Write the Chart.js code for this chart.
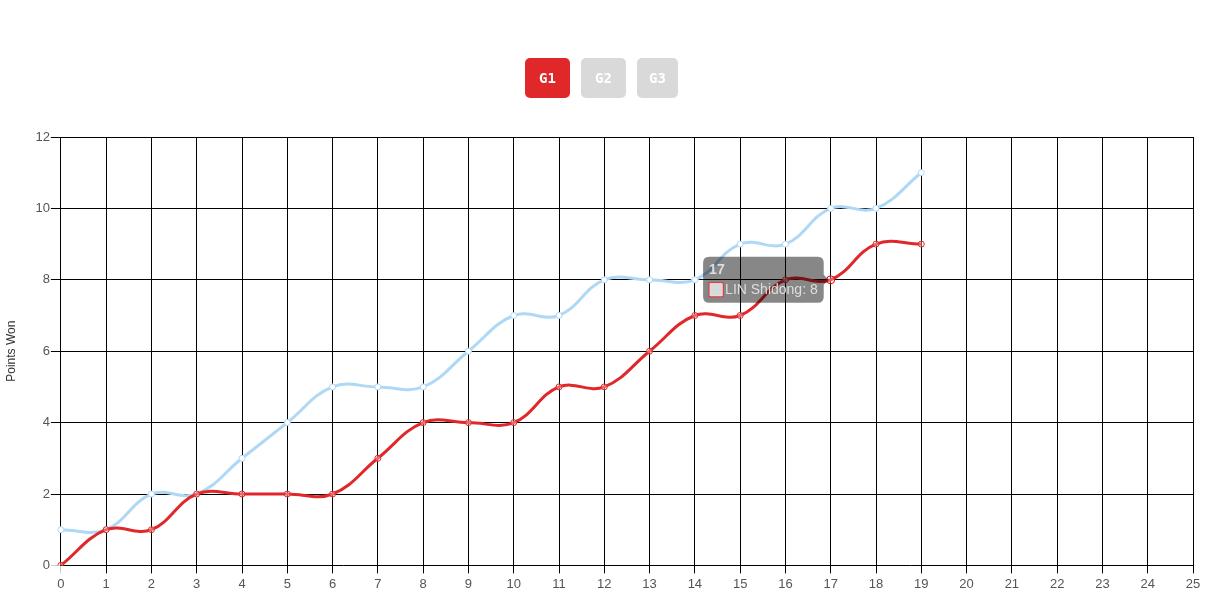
<!DOCTYPE html>
<html>
<head>
<meta charset="utf-8">
<script src="https://cdn.jsdelivr.net/npm/chart.js@4"></script>
<style>
  html,body{margin:0;padding:0;background:#fff;}
  #wrap{position:relative;width:1217px;height:605px;}
  #btns{position:absolute;top:58px;left:525px;height:40px;font-size:0;white-space:nowrap;}
  .b{display:inline-block;width:45px;height:40px;border-radius:5px;margin-right:11px;
     color:#fff;font-family:"DejaVu Sans Mono","Liberation Mono",monospace;font-weight:bold;font-size:14px;line-height:40px;text-align:center;background:#d9d9d9;vertical-align:top;}
  .b.on{background:#e0282a;}
  #c{position:absolute;top:0;left:0;}
</style>
</head>
<body>
<div id="wrap">
  <canvas id="c" width="1217" height="605"></canvas>
  <div id="btns"><span class="b on">G1</span><span class="b">G2</span><span class="b" style="width:41px">G3</span></div>
</div>
<script>
const rallyLabels = ["0","1","2","3","4","5","6","7","8","9","10","11","12","13","14","15","16","17","18","19","20","21","22","23","24","25"];
const linShidong = [0,1,1,2,2,2,2,3,4,4,4,5,5,6,7,7,8,8,9,9];
const opponent   = [1,1,2,2,3,4,5,5,5,6,7,7,8,8,8,9,9,10,10,11];
const yTicks = [0,2,4,6,8,10,12];

Chart.defaults.font.family = '"Liberation Sans", Arial, sans-serif';
Chart.defaults.font.size = 13;
Chart.defaults.color = '#555';

const RED = '#e0282a';
const BLUE = '#aed8f5';
const gridColor = ctx => ctx.index === 0 ? 'rgba(0,0,0,0.2)' : '#000';

const chart = new Chart(document.getElementById('c'), {
  type: 'line',
  data: {
    labels: rallyLabels,
    datasets: [
      {label:'LIN Shidong', data: linShidong, borderColor: RED, backgroundColor: '#d9d9d9',
       borderWidth: 3, tension: 0.4, pointRadius: 3, pointBorderWidth: 1,
       pointBackgroundColor: 'rgba(255,255,255,0.3)', pointBorderColor: RED, fill:false},
      {label:'Opponent', data: opponent, borderColor: BLUE, backgroundColor: '#d9d9d9',
       borderWidth: 3, tension: 0.4, pointRadius: 3, pointBorderWidth: 1,
       pointBackgroundColor: '#fff', pointBorderColor: BLUE, fill:false}
    ]
  },
  options: {
    responsive: false,
    animation: false,
    layout: {padding: {top: 137, right: 24, bottom: 10, left: 0}},
    plugins: {
      legend: {display: false},
      tooltip: {
        backgroundColor: 'rgba(0,0,0,0.47)',
        titleColor: '#ddd', bodyColor: '#ddd',
        titleFont: {weight: 'bold', size: 14, lineHeight: 1},
        bodyFont: {size: 14, lineHeight: 1},
        cornerRadius: 6, padding: 6, caretSize: 5,
        callbacks: {
          labelColor: () => ({borderColor: RED, backgroundColor: '#d9d9d9', borderWidth: 1})
        }
      }
    },
    scales: {
      x: {
        offset: false,
        grid: {color: gridColor, tickLength: 8, offset: false},
        border: {color: '#000'},
        ticks: {maxRotation: 0, autoSkip: false, padding: 3}
      },
      y: {
        min: 0, max: 12,
        afterBuildTicks: axis => { axis.ticks = yTicks.map(v => ({value: v})); },
        grid: {color: gridColor, tickLength: 10},
        border: {color: '#000'},
        ticks: {padding: 1},
        title: {display: true, text: 'Points Won', color: '#333', font: {size: 12}, padding: {top: 4, bottom: 16}}
      }
    }
  }
});
const meta = chart.getDatasetMeta(0);
const pt = meta.data[17];
chart.setActiveElements([{datasetIndex: 0, index: 17}]);
chart.tooltip.setActiveElements([{datasetIndex: 0, index: 17}], {x: pt.x, y: pt.y});
chart.update();
</script>
</body>
</html>
